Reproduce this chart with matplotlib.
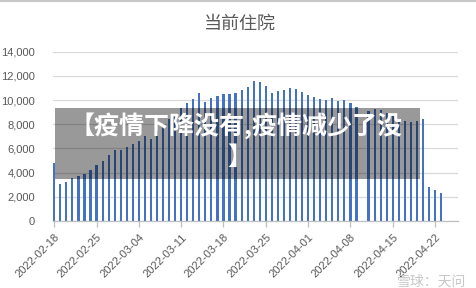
import numpy as np
import pandas as pd
import matplotlib
matplotlib.use("Agg")
import matplotlib.pyplot as plt
import matplotlib.dates as mdates
from matplotlib.lines import Line2D
from matplotlib.patches import Rectangle

plt.rcParams['font.family'] = ['Liberation Sans', 'Noto Sans CJK SC', 'DejaVu Sans']

# ---- data ----
start_date = "2022-02-18"
hospitalized = [
    4820, 3080, 3250, 3580, 3750, 3910, 4220, 4630, 4960, 5490,
    5900, 5900, 6150, 6400, 6640, 7030, 6780, 7470, 8000, 8400,
    8800, 9370, 9760, 10090, 10590, 9840, 10170, 10300, 10470, 10500,
    10610, 10800, 11100, 11600, 11520, 11170, 10590, 10750, 10860, 11000,
    10920, 10670, 10420, 10260, 10090, 10030, 10150, 9950, 10000, 9760,
    9420, np.nan, 9090, 9260, 9170, 8930, 8650, 8350, 8230, 8180,
    8280, 8440, 2830, 2560, 2330,
]
tick_labels = ["2022-02-18", "2022-02-25", "2022-03-04", "2022-03-11", "2022-03-18",
               "2022-03-25", "2022-04-01", "2022-04-08", "2022-04-15", "2022-04-22"]
y_ticks = [0, 2000, 4000, 6000, 8000, 10000, 12000, 14000]
title = "当前住院"
banner_line1 = "【疫情下降没有,疫情减少了没"
banner_line2 = "】"
watermark = "雪球：天问"

dates = pd.date_range(start_date, periods=len(hospitalized), freq="D")

# ---- figure ----
W, H = 476, 288
fig = plt.figure(figsize=(W / 100, H / 100), dpi=100)
fig.patch.set_facecolor("white")
ax = fig.add_axes([53 / W, 1 - 221 / H, (458 - 53) / W, (221 - 51.7) / H])

bar_color = "#4472C4"
ax.bar(dates, hospitalized, width=0.36, color=bar_color, zorder=2)

ax.set_ylim(0, 14000)
ax.set_yticks(y_ticks)
ax.set_yticklabels([f"{v:,}" for v in y_ticks])
x0 = pd.Timestamp(start_date)
ax.set_xlim(x0 - pd.Timedelta(hours=5), x0 + pd.Timedelta(days=66.8))
tick_pos = [pd.Timestamp(t) for t in tick_labels]
ax.set_xticks(tick_pos)
ax.set_xticklabels(tick_labels, rotation=45, ha="right", va="top", rotation_mode="anchor")

ax.grid(axis="y", color="#D9D9D9", linewidth=0.9, zorder=0)
ax.set_axisbelow(True)
for s in ["left", "right", "top"]:
    ax.spines[s].set_visible(False)
ax.spines["bottom"].set_color("#BFBFBF")
ax.spines["bottom"].set_linewidth(0.9)
ax.tick_params(axis="y", length=0, pad=13, labelsize=8, labelcolor="#595959")
ax.tick_params(axis="x", length=4, width=0.9, color="#BFBFBF", pad=4,
               labelsize=8, labelcolor="#595959")

fig.text(240 / W, 1 - 24 / H, title, ha="center", va="center", fontsize=13,
         color="#595959", family=["Noto Sans CJK SC", "DejaVu Sans"])

# ---- overlay banner ----
fig.patches.append(Rectangle((55 / W, 1 - 179 / H), (420 - 55) / W, (179 - 107.7) / H,
                             transform=fig.transFigure, facecolor="black", alpha=0.4,
                             edgecolor="none", zorder=5))
fig.text(236 / W, 1 - 126 / H, banner_line1, ha="center", va="center", fontsize=18,
         color="white", fontweight="bold", family=["Noto Sans CJK SC", "DejaVu Sans"], zorder=6)
fig.text(240 / W, 1 - 158 / H, banner_line2, ha="center", va="center", fontsize=18,
         color="white", fontweight="bold", family=["Noto Sans CJK SC", "DejaVu Sans"], zorder=6)

# ---- watermark & border ----
fig.text(397 / W, 1 - 282 / H, watermark, ha="left", va="center", fontsize=10,
         color="#C8C8C8", family=["Noto Sans CJK SC", "DejaVu Sans"], zorder=6)
fig.lines.append(Line2D([0, 1], [1 - 0.5 / H, 1 - 0.5 / H], transform=fig.transFigure,
                        color="#C8C8C8", linewidth=1.5))

fig.savefig("out.png", dpi=100)
